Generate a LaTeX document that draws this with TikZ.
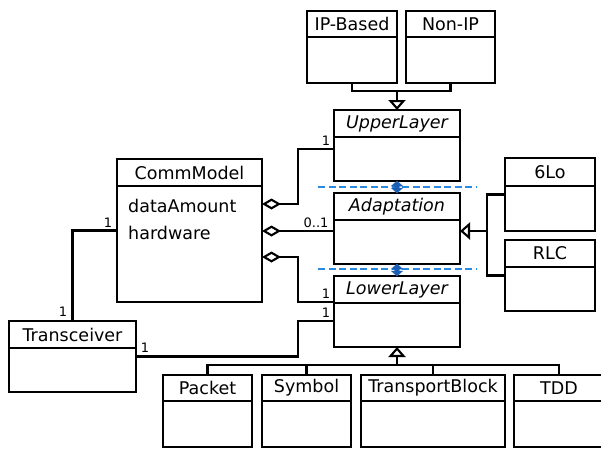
\documentclass[tikz,border=0pt]{standalone}
\usepackage{fontspec}
\setmainfont{DejaVu Sans}
\usetikzlibrary{arrows.meta,calc}
\definecolor{dashblue}{HTML}{2A8AE2}
\definecolor{arrblue}{HTML}{1A5FB4}
\tikzset{
  clsbox/.style={draw=black, line width=2.1pt, inner sep=0pt, outer sep=0pt},
  clsline/.style={line width=2.1pt},
  clstitle/.style={font=\fontsize{17.5}{20}\selectfont, inner sep=0pt, anchor=center},
  attr/.style={font=\fontsize{17.5}{20}\selectfont, inner sep=0pt, anchor=base west},
  mult/.style={font=\fontsize{13}{15}\selectfont, inner sep=0pt},
  conn/.style={line width=2.1pt},
  gen/.style={conn, -{Triangle[open, width=17pt, length=10pt, line width=2.1pt]}},
  agg/.style={conn, {Diamond[open, width=11pt, length=19pt, line width=2.1pt]}-},
  sep/.style={dashblue, line width=1.7pt, dash pattern=on 7pt off 3.5pt},
  depfill/.style={fill=arrblue, draw=arrblue, line width=0.5pt, line join=miter}
}
\newcommand\umlclass[7]{%
  \node[clsbox, minimum width=#4pt, minimum height=#5pt, anchor=north west] (#1) at (#2,#3) {};
  \draw[clsline] ([yshift=-#6pt]#1.north west) -- ([yshift=-#6pt]#1.north east);
  \node[clstitle] (#1-t) at ([yshift=-#6*0.5pt]#1.north) {#7};}
\newcommand\deparrow[2]{%
  \filldraw[depfill] (#1) -- ($(#1)+(5.5,5)$) -- ($(#1)+(2.2,5)$) -- ($(#2)+(2.2,-5)$)
    -- ($(#2)+(5.5,-5)$) -- (#2) -- ($(#2)+(-5.5,-5)$) -- ($(#2)+(-2.2,-5)$)
    -- ($(#1)+(-2.2,5)$) -- ($(#1)+(-5.5,5)$) -- cycle;}
\begin{document}
\begin{tikzpicture}[x=1pt,y=-1pt]
\useasboundingbox (0,0) rectangle (601,448);
\clip (0,0) rectangle (601,448);
% classes
\umlclass{ipb}{307}{11}{90}{72}{26}{IP-Based}
\umlclass{nonip}{406}{11}{89}{72}{26}{Non-IP}
\umlclass{upper}{334}{110}{126}{71}{27}{\itshape UpperLayer}
\umlclass{adapt}{334}{193}{126}{71}{27}{\itshape Adaptation}
\umlclass{lower}{334}{276}{126}{71}{27}{\itshape LowerLayer}
\umlclass{sixlo}{505}{158}{90}{73}{28}{6Lo}
\umlclass{rlc}{505}{240}{90}{71}{27}{RLC}
\umlclass{comm}{117}{159}{145}{143}{27}{CommModel}
\umlclass{trans}{9}{321}{127}{71}{27}{Transceiver}
\umlclass{packet}{163}{375}{89}{72}{26}{Packet}
\umlclass{symbol}{262}{375}{89}{72}{26}{Symbol}
\umlclass{tb}{361}{375}{144}{72}{26}{TransportBlock}
\umlclass{tdd}{514}{375}{90}{72}{26}{TDD}
\node[attr] (attr1) at (128,212.5) {dataAmount};
\node[attr] (attr2) at (128,239) {hardware};
% generalization: UpperLayer
\coordinate (g1) at ($(upper.north |- ipb.south)+(0,8)$);
\draw[conn] (ipb.south) |- (g1) -| (nonip.south);
\draw[gen] (g1) -- (upper.north);
% generalization: Adaptation
\coordinate (g2) at (487,231);
\draw[conn] (sixlo.west) -| (g2) |- (rlc.west);
\draw[gen] (g2) -- (g2 -| adapt.east);
% generalization: LowerLayer
\coordinate (g3) at ($(lower.south)+(0,18)$);
\draw[conn] (packet.north) |- (g3) -| (tdd.north);
\draw[conn] (symbol.north) -- (symbol.north |- g3);
\draw[conn] (tb.north) -- (tb.north |- g3);
\draw[gen] (g3) -- (lower.south);
% aggregations
\coordinate (a1) at ([yshift=-45pt]comm.north east);
\coordinate (a2) at ([yshift=-72pt]comm.north east);
\coordinate (a3) at ([yshift=-98pt]comm.north east);
\coordinate (u1) at ([yshift=-39pt]upper.north west);
\coordinate (l1) at ([yshift=-26pt]lower.north west);
\coordinate (l2) at ([yshift=-45pt]lower.north west);
\draw[agg] (a1) -- ++(36,0) |- (u1);
\draw[agg] (a2) -- (a2 -| adapt.west);
\draw[agg] (a3) -- ++(36,0) |- (l1);
% transceiver
\draw[conn] (trans.north) |- (comm.west);
\draw[conn] (trans.east) -- ++(162,0) |- (l2);
% multiplicities
\node[mult] (m1) at (326,141) {1};
\node[mult] (m2) at (316,222.5) {0..1};
\node[mult] (m3) at (326,294) {1};
\node[mult] (m4) at (326,312.5) {1};
\node[mult] (m5) at (108,223) {1};
\node[mult] (m6) at (63,312) {1};
\node[mult] (m7) at (145,348) {1};
% separators
\coordinate (s1a) at (318,187); \coordinate (s1b) at (476,187);
\coordinate (s2a) at (318,269); \coordinate (s2b) at (476,269);
\draw[sep] (s1a) -- (s1b);
\draw[sep] (s2a) -- (s2b);
\coordinate (d1a) at (upper.south); \coordinate (d1b) at (adapt.north);
\coordinate (d2a) at (adapt.south); \coordinate (d2b) at (lower.north);
\deparrow{d1a}{d1b}
\deparrow{d2a}{d2b}
\end{tikzpicture}
\end{document}
